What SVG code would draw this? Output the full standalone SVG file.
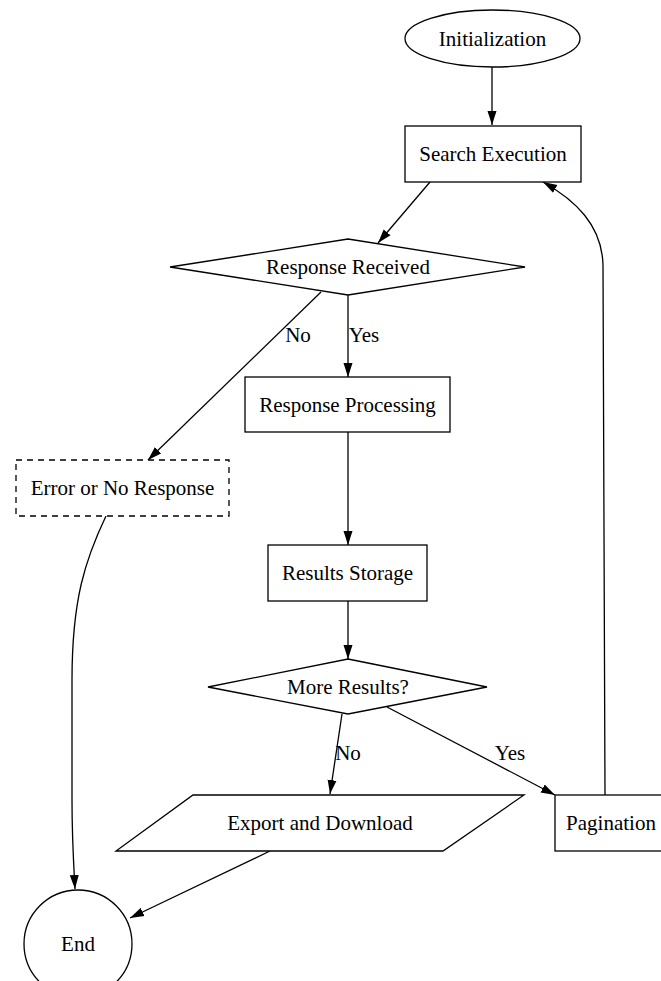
<svg xmlns="http://www.w3.org/2000/svg" width="661" height="981" viewBox="0 0 661 981">
<style>
.n{fill:#fff;stroke:#000;stroke-width:1.3}
.t{font-family:"Liberation Serif","Times New Roman",serif;font-size:21px;fill:#000;text-anchor:middle;dominant-baseline:central}
.e{fill:none;stroke:#000;stroke-width:1.3;marker-end:url(#a)}
</style>
<defs>
<marker id="a" viewBox="0 0 14 10" refX="14" refY="5" markerWidth="14" markerHeight="10" markerUnits="userSpaceOnUse" orient="auto">
<path d="M0,0.5 L14,5 L0,9.5 Z" fill="#000"/>
</marker>
</defs>
<rect width="661" height="981" fill="#fff"/>
<g id="edges">
<path class="e" d="M492,67 L492,125"/>
<path class="e" d="M430,182 L378,243"/>
<path class="e" d="M348,295 L348,377"/>
<path class="e" d="M321,292 L148,460"/>
<path class="e" d="M348,432 L348,545"/>
<path class="e" d="M348,601 L348,659"/>
<path class="e" d="M342,714 L330,794"/>
<path class="e" d="M387,707 L555,795"/>
<path class="e" d="M605,795 L603,265 C602,225 575,200 543,182"/>
<path class="e" d="M106,516 C85,560 72,600 72,680 L72,800 C72,840 74,870 75,889"/>
<path class="e" d="M270,851 L130,918"/>
<text class="t" x="298" y="335">No</text>
<text class="t" x="364" y="335">Yes</text>
<text class="t" x="348" y="753">No</text>
<text class="t" x="510" y="753">Yes</text>
</g>
<g id="initialization"><ellipse class="n" cx="492.5" cy="38.5" rx="87.5" ry="28.5"/><text class="t" x="492.5" y="38.5">Initialization</text></g>
<g id="search"><rect class="n" x="405" y="126" width="176" height="56"/><text class="t" x="493" y="154">Search Execution</text></g>
<g id="received"><polygon class="n" points="348,239 525,267 348,295 170,267"/><text class="t" x="348" y="267">Response Received</text></g>
<g id="processing"><rect class="n" x="245" y="377" width="205" height="55"/><text class="t" x="347.5" y="404.5">Response Processing</text></g>
<g id="error"><rect class="n" x="16" y="460" width="213" height="56" stroke-dasharray="6,5"/><text class="t" x="122.5" y="488">Error or No Response</text></g>
<g id="storage"><rect class="n" x="268" y="545" width="159" height="56"/><text class="t" x="347.5" y="573">Results Storage</text></g>
<g id="more"><polygon class="n" points="348,659 487,687 348,714 208,687"/><text class="t" x="348" y="687">More Results?</text></g>
<g id="export"><polygon class="n" points="193,795 524,795 443,851 116,851"/><text class="t" x="320" y="823">Export and Download</text></g>
<g id="pagination"><rect class="n" x="555" y="795" width="112" height="56"/><text class="t" x="611" y="823">Pagination</text></g>
<g id="end"><circle class="n" cx="78" cy="944" r="54"/><text class="t" x="78" y="944">End</text></g>
</svg>
